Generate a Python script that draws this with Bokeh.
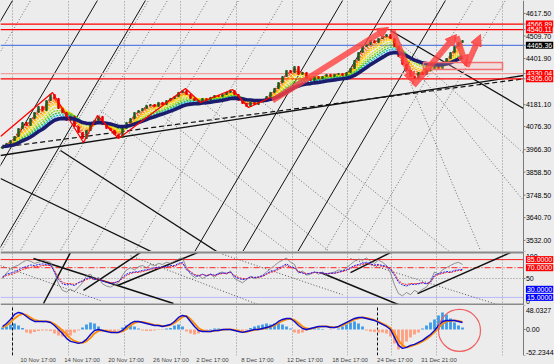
import numpy as np
import pandas as pd
from bokeh.plotting import figure
from bokeh.layouts import column
from bokeh.models import (Range1d, FixedTicker, Arrow, NormalHead)
from bokeh.core.properties import value
from bokeh.embed import file_html
from bokeh.resources import INLINE

BG = "#ececec"
FONT = "Liberation Sans"
FS = "7px"
FS_TIME = "6px"

# ---------------- data (bar index = 4 px step) ----------------
close = [3981, 3996, 4010, 4029, 4067, 4096, 4082, 4115, 4144, 4173,
         4153, 4201, 4230, 4211, 4163, 4144, 4106, 4125, 4077, 4048,
         4019, 4058, 4086, 4106, 4125, 4086, 4067, 4058, 4039, 4024,
         4067, 4096, 4115, 4144, 4153, 4163, 4177, 4182, 4173, 4192,
         4182, 4201, 4211, 4220, 4240, 4249, 4230, 4211, 4201, 4192,
         4211, 4201, 4216, 4225, 4220, 4230, 4240, 4249, 4230, 4201,
         4187, 4173, 4192, 4182, 4201, 4196, 4220, 4240, 4259, 4287,
         4316, 4345, 4335, 4364, 4326, 4335, 4307, 4297, 4316, 4307,
         4316, 4326, 4316, 4326, 4330, 4321, 4335, 4354, 4393, 4431,
         4460, 4469, 4488, 4479, 4498, 4507, 4517, 4498, 4460, 4412,
         4374, 4345, 4316, 4307, 4335, 4326, 4345, 4354, 4364, 4354,
         4383, 4402, 4431, 4460, 4479, 4488]

rsi_red = [51.9, 55.6, 57.4, 59.3, 63.0, 66.7, 68.5, 70.4, 72.2, 72.2,
           74.1, 74.1, 74.1, 64.8, 51.9, 42.6, 40.7, 40.7, 38.9, 42.6,
           44.4, 48.2, 50.0, 48.2, 48.2, 46.3, 44.4, 42.6, 42.6, 44.4,
           50.0, 55.6, 59.3, 61.1, 61.1, 63.0, 64.8, 66.7, 68.5, 68.5,
           70.4, 70.4, 72.2, 72.2, 75.9, 77.8, 68.5, 63.0, 57.4, 55.6,
           57.4, 55.6, 57.4, 55.6, 57.4, 59.3, 59.3, 61.1, 55.6, 51.9,
           50.0, 50.0, 51.9, 51.9, 51.9, 53.7, 57.4, 61.1, 63.0, 66.7,
           70.4, 74.1, 70.4, 68.5, 63.0, 61.1, 59.3, 59.3, 61.1, 61.1,
           59.3, 59.3, 59.3, 59.3, 61.1, 63.0, 64.8, 68.5, 72.2, 74.1,
           75.9, 77.8, 75.9, 74.1, 74.1, 72.2, 72.2, 68.5, 59.3, 46.3,
           40.7, 38.9, 40.7, 40.7, 40.7, 42.6, 40.7, 42.6, 53.7, 57.4,
           59.3, 61.1, 61.1, 63.0, 64.8, 64.8]
rsi_blue = [53, 58, 60, 62, 66, 70, 72, 75, 74, 76,
            77, 76, 75, 62, 48, 40, 38, 39, 37, 42,
            46, 50, 52, 48, 49, 45, 43, 41, 42, 45,
            52, 58, 61, 62, 63, 65, 66, 68, 70, 70,
            72, 72, 74, 74, 78, 80, 66, 61, 56, 54,
            58, 55, 58, 56, 59, 60, 60, 62, 54, 50,
            48, 49, 53, 52, 53, 55, 59, 63, 65, 69,
            73, 77, 72, 70, 62, 60, 58, 60, 62, 61,
            60, 59, 60, 60, 62, 64, 66, 70, 74, 76,
            78, 80, 77, 75, 76, 74, 73, 67, 56, 43,
            38, 36, 39, 39, 40, 42, 40, 44, 56, 59,
            61, 63, 62, 65, 66, 67]
rsi_gray = [50, 60, 68, 72, 75, 80, 84, 82, 78, 80,
            84, 82, 80, 62, 40, 28, 25, 30, 26, 34,
            42, 55, 58, 48, 52, 40, 36, 34, 38, 42,
            56, 66, 70, 66, 72, 74, 70, 76, 74, 78,
            76, 80, 78, 82, 86, 88, 70, 58, 52, 56,
            50, 54, 58, 52, 60, 62, 58, 64, 50, 46,
            42, 48, 54, 50, 52, 56, 62, 68, 74, 80,
            84, 88, 80, 76, 60, 64, 56, 58, 62, 58,
            62, 56, 60, 62, 66, 64, 70, 76, 82, 86,
            84, 88, 82, 78, 84, 80, 74, 60, 38, 22,
            18, 24, 20, 28, 24, 30, 34, 46, 62, 58,
            66, 70, 74, 78, 80, 76]

macd_main = [6, 12, 20, 30, 34, 32, 26, 20, 16, 16,
             16, 16, 14, 8, 0, -8, -18, -24, -26, -28,
             -26, -20, -10, -2, 0, -2, -4, -6, -6, -6,
             -2, 6, 12, 16, 16, 14, 12, 10, 8, 8,
             6, 8, 10, 16, 24, 28, 26, 16, 6, -2,
             -4, -4, -4, -2, -2, 0, 0, 0, -2, -4,
             -6, -4, -2, 0, 0, 2, 4, 6, 10, 16,
             20, 22, 22, 16, 8, 2, 0, 2, 4, 6,
             6, 6, 4, 4, 6, 10, 14, 18, 22, 24,
             24, 22, 20, 18, 14, 10, 6, 0, -16, -32,
             -38, -36, -32, -30, -26, -22, -16, -10, -2, 8,
             16, 18, 18, 18, 16, 14]
macd_signal = [4, 8, 14, 22, 28, 31, 29, 24, 19, 17,
               16, 16, 15, 11, 5, -2, -10, -18, -23, -26,
               -27, -24, -17, -8, -3, -2, -3, -5, -6, -6,
               -4, 1, 8, 13, 15, 15, 13, 11, 9, 8,
               7, 7, 9, 13, 19, 25, 27, 21, 12, 3,
               -2, -4, -4, -3, -2, -1, 0, 0, -1, -3,
               -5, -5, -3, -1, 0, 1, 3, 5, 8, 13,
               17, 20, 21, 19, 13, 6, 2, 1, 3, 5,
               6, 6, 5, 4, 5, 8, 12, 16, 20, 22,
               24, 23, 21, 19, 16, 12, 8, 3, -8, -22,
               -32, -36, -34, -31, -28, -24, -19, -13, -6, 3,
               11, 16, 17, 18, 17, 15]
macd_hist = [4, 6, 10, 12, 8, 3, -6, -8, -5, -3,
             -2, -2, -3, -8, -12, -14, -16, -12, -6, -2,
             4, 10, 14, 12, 6, -3, -5, -6, -4, -2,
             4, 8, 10, 6, 2, -2, -3, -3, -2, -1,
             -1, 2, 3, 8, 10, 6, -4, -8, -10, -8,
             -4, -2, 1, 2, 2, 1, 1, 0, -2, -4,
             -5, -2, 3, 6, 8, 10, 12, 10, 12, 14,
             10, 6, 2, -6, -8, -6, -3, 1, 2, 2,
             1, 0, -1, 0, 2, 6, 10, 14, 16, 12,
             6, -2, -4, -5, -6, -6, -8, -14, -28, -40,
             -36, -24, -16, -10, -6, 2, 8, 14, 20, 28,
             34, 30, 22, 14, 8, 4]

# horizontal price levels
level_prices = [4566.89, 4540.11, 4465.36, 4330.04, 4305.00]
level_colors = ["#ff0000", "#ff0000", "#5b7fe0", "#f2a0a0", "#ff0000"]
level_label_bg = ["#ff0000", "#ff0000", "#000000", "#ff0000", "#ff0000"]
main_ticks = [4617.50, 4509.70, 4401.90, 4181.10, 4076.30, 3966.30, 3858.50,
              3748.50, 3640.70, 3532.00]

osc_levels = [85, 70, 30, 15]
osc_level_text = ["85.0000", "70.0000", "30.0000", "15.0000"]
osc_level_bg = ["#ff0000", "#ff0000", "#0000ff", "#0000ff"]
macd_max, macd_min = 48.0327, -52.2344

# trend objects (bar, price)
steep_black = [(-35.75, 3435.6, 3.97, 4727.6), (-14.5, 3435.6, 25.2, 4727.6),
               (-2.5, 3435.6, 37.2, 4727.6), (46.75, 3435.6, 86.5, 4727.6),
               (58.75, 3435.6, 98.5, 4727.6), (72.5, 3435.6, 112.2, 4727.6)]
steep_gray = [(-31.25, 3435.6, 8.47, 4727.6), (-1.75, 3435.6, 37.97, 4727.6),
              (3.0, 3435.6, 42.7, 4727.6), (13.0, 3435.6, 52.7, 4727.6),
              (20.75, 3435.6, 60.5, 4727.6), (31.75, 3435.6, 71.5, 4727.6),
              (79.25, 3435.6, 119.0, 4727.6), (87.5, 3435.6, 127.2, 4727.6)]
desc_black = [(-0.5, 3828.0, 49.5, 3364.0), (14.5, 3962.0, 57.0, 3436.0),
              (97.0, 4536.0, 130.25, 4163.0)]
desc_gray = [(24.5, 4153.4, 74.5, 3435.6), (37.0, 4177.0, 84.5, 3435.6),
             (49.5, 4201.0, 99.5, 3435.6), (64.5, 4201.0, 114.5, 3435.6),
             (98.25, 4464.4, 130.25, 3722.7), (97.5, 4488.0, 119.5, 3483.0),
             (98.0, 4500.0, 130.25, 3950.0)]
shallow_solid = [(-0.5, 3938.0, 130.25, 4320.8)]
shallow_dashed = [(-0.5, 3976.3, 130.25, 4305.0)]

zigzag_bar = [-0.5, 12.5, 20.25, 23.75, 29.0, 45.75, 49.5, 57.5, 61.5, 67.0]
zigzag_price = [4028.9, 4239.5, 4000.2, 4129.4, 4019.4, 4258.6, 4191.6, 4253.8, 4167.7, 4215.6]

arrows = [(67.5, 4201.2, 96.5, 4550.5), (97.5, 4536.1, 102.75, 4282.5),
          (102.75, 4273.0, 113.5, 4517.0), (113.5, 4507.4, 116.0, 4363.9),
          (116.0, 4363.9, 119.5, 4517.0)]
box = (105.25, 4349.5, 125.0, 4383.0)

rsi_black = [(10.25, 3.7, 17.0, 98.2), (20.25, 27.8, 34.5, 98.2),
             (7.75, 87.0, 42.75, 3.7), (28.75, 37.0, 48.75, 98.0),
             (87.0, 61.0, 97.0, 98.0), (103.75, 22.0, 127.0, 98.0),
             (79.5, 61.0, 99.5, 0.0)]
rsi_grayd = [(-0.5, 74.0, 24.5, 9.0), (32.0, 92.0, 64.5, 0.0), (87.0, 87.0, 124.5, 0.0),
             (55.0, 95.0, 85.0, 20.0)]

grid_bars = [2.5, 16.5, 30.5, 44.5, 58.5, 72.5, 86.25, 97.25, 108.5, 125.0]
macd_marks = [2.5, 93.75]
time_ticks = [8.9, 19.9, 30.9, 42.1, 52.5, 63.75, 75.6, 86.9, 98.1, 109.1]
time_labels = ["10 Nov 17:00", "14 Nov 17:00", "20 Nov 17:00", "26 Nov 17:00",
               "2 Dec 17:00", "8 Dec 17:00", "12 Dec 17:00", "18 Dec 17:00",
               "24 Dec 17:00", "31 Dec 21:00"]

X_END = 130.25          # right edge of the chart area (price scale starts here)
XR = Range1d(-0.5, 138.0)
AX = "#7a7a7a"


def base_fig(frame_h, yr, bottom=0):
    p = figure(frame_width=554, frame_height=frame_h, x_range=XR, y_range=yr,
               output_backend="svg", toolbar_location=None,
               y_axis_location=None, x_axis_location=("below" if bottom else None),
               min_border_left=0, min_border_right=0, min_border_top=0,
               min_border_bottom=bottom, background_fill_color=BG,
               border_fill_color=BG, outline_line_color=None)
    p.xgrid.visible = False
    p.ygrid.visible = False
    for b in grid_bars:
        p.segment(x0=[b], y0=[yr.start], x1=[b], y1=[yr.end], line_color="#8c8c8c",
                  line_dash="1 2", line_width=1)
    return p


def price_scale(p, yr, ticks, dx=0.5):
    p.segment(x0=[X_END], y0=[yr.start], x1=[X_END], y1=[yr.end], line_color=AX, line_width=1)
    p.segment(x0=[X_END] * len(ticks), y0=ticks, x1=[X_END + dx] * len(ticks), y1=ticks,
              line_color=AX, line_width=1)


def scale_text(p, ys, texts, bg=None, color="#000000", baseline="middle", yoff=0):
    kw = {}
    if bg is not None:
        kw = dict(background_fill_color=bg, padding=1)
    p.text(x=[X_END + 0.6] * len(ys), y=ys, text=texts, text_align="left",
           text_baseline=baseline, text_font=value(FONT), text_font_size=FS,
           text_color=color, y_offset=yoff, **kw)


def seg(p, rows, color, dash="solid", width=1.0, alpha=1.0):
    x0, y0, x1, y1 = zip(*rows)
    p.segment(x0=list(x0), y0=list(y0), x1=list(x1), y1=list(y1),
              line_color=color, line_dash=dash, line_width=width, line_alpha=alpha)


def hline(p, y, color, width=1.0, dash="solid"):
    p.segment(x0=[-0.5], y0=[y], x1=[X_END], y1=[y], line_color=color,
              line_width=width, line_dash=dash)


# ---------------- main price pane ----------------
yr1 = Range1d(3478.7, 4679.7)
p1 = base_fig(251, yr1)

seg(p1, steep_gray, "#6e6e6e", dash="1 2")
seg(p1, desc_gray, "#6e6e6e", dash="1 2")
seg(p1, steep_black, "#111111", width=1)
seg(p1, desc_black, "#111111", width=1.3)
seg(p1, shallow_solid, "#111111", width=1.3)
seg(p1, shallow_dashed, "#111111", dash="5 3", width=1.2)

for lp, lc in zip(level_prices, level_colors):
    hline(p1, lp, lc, width=1.2)

n = len(close)
xb = np.arange(n)
cl = np.array(close, dtype=float)
op = np.concatenate([[cl[0] - 10], cl[:-1]])
s = pd.Series(cl)
ribbon_spans = [2, 3, 4, 5, 6, 8, 10, 12, 14, 16]
ribbon_cols = ["#ff2020", "#ff5a00", "#ff8c00", "#ffb400", "#ffd700", "#c8e000",
               "#7cd000", "#30c030", "#00b8c8", "#4a90ff"]
for sp, col in zip(ribbon_spans, ribbon_cols):
    p1.line(xb, s.ewm(span=sp, adjust=False).mean().values, line_color=col,
            line_width=1.3, line_dash="2 1", line_alpha=1.0)
up = cl >= op
p1.vbar(x=xb[up], top=cl[up], bottom=op[up], width=0.35, fill_color="#1b5e20",
        line_color="#1b5e20")
p1.vbar(x=xb[~up], top=op[~up], bottom=cl[~up], width=0.35, fill_color="#e00000",
        line_color="#e00000")
p1.line(xb, s.ewm(span=18, adjust=False).mean().values, line_color="#1c1c6e", line_width=3.6)

p1.line(zigzag_bar, zigzag_price, line_color="#ff0000", line_width=1.3)
p1.quad(left=box[0], bottom=box[1], right=box[2], top=box[3], fill_color="#ffb0b0",
        fill_alpha=0.25, line_color="#f07070", line_width=1.5)
for a in arrows:
    p1.add_layout(Arrow(end=NormalHead(size=11, fill_color="#ff4040", line_color="#ff4040",
                                       fill_alpha=0.85, line_alpha=0.85),
                        x_start=a[0], y_start=a[1], x_end=a[2], y_end=a[3],
                        line_color="#ff4040", line_width=6, line_alpha=0.8))

price_scale(p1, yr1, main_ticks + level_prices)
scale_text(p1, main_ticks, [f"{t:.2f}" for t in main_ticks])
scale_text(p1, level_prices, [f"{t:.2f}" for t in level_prices], bg=level_label_bg,
           color="#ffffff")

# ---------------- oscillator pane ----------------
yr2 = Range1d(0, 100)
p2 = base_fig(54, yr2)
hline(p2, 85, "#ff2020")
hline(p2, 70, "#ff2020", dash="6 2 1 2")
hline(p2, 50, "#8c8c8c", dash="1 2")
hline(p2, 15, "#b8b8ff")
seg(p2, rsi_grayd, "#555555", dash="1 2")
seg(p2, rsi_black, "#111111", width=1.5)
p2.line(np.arange(len(rsi_gray)), rsi_gray, line_color="#777777", line_width=0.8)
p2.line(np.arange(len(rsi_red)), rsi_red, line_color="#ff2020", line_width=1, line_dash="2 1")
p2.line(np.arange(len(rsi_blue)), rsi_blue, line_color="#2020ff", line_width=1, line_dash="2 1")
p2.segment(x0=[-0.5, -0.5], y0=[99.2, 0.8], x1=[X_END, X_END], y1=[99.2, 0.8],
           line_color="#8a8a8a", line_width=3)
price_scale(p2, yr2, [100, 50, 0])
scale_text(p2, [100], ["100"], baseline="top", yoff=2)
scale_text(p2, [50], ["50"])
scale_text(p2, [0], ["0"], baseline="bottom", yoff=-2)
scale_text(p2, osc_levels, osc_level_text, bg=osc_level_bg, color="#ffffff")

# ---------------- MACD pane ----------------
yr3 = Range1d(macd_min, macd_max)
p3 = base_fig(50, yr3, bottom=9)
p3.xaxis.ticker = FixedTicker(ticks=time_ticks)
p3.xaxis.major_label_overrides = {t: l for t, l in zip(time_ticks, time_labels)}
p3.xaxis.axis_line_color = None
p3.xaxis.major_tick_line_color = None
p3.xaxis.minor_tick_line_color = None
p3.xaxis.major_tick_out = 0
p3.xaxis.major_tick_in = 0
p3.xaxis.major_label_text_font = FONT
p3.xaxis.major_label_text_font_size = FS_TIME
p3.xaxis.major_label_standoff = 1
for b in macd_marks:
    p3.segment(x0=[b], y0=[yr3.start], x1=[b], y1=[yr3.end], line_color="#111111",
               line_dash="3 2", line_width=1)
xh = np.arange(len(macd_hist))
hv = np.array(macd_hist, dtype=float)
pos = hv >= 0
p3.vbar(x=xh[pos], top=hv[pos], bottom=0, width=0.7, fill_color="#3d9be9", line_color=None)
p3.vbar(x=xh[~pos], top=0, bottom=hv[~pos], width=0.7, fill_color="#ff9f80", line_color=None)
p3.line(np.arange(len(macd_signal)), macd_signal, line_color="#ff8c00", line_width=1.8)
p3.line(np.arange(len(macd_main)), macd_main, line_color="#0a0ad0", line_width=1.4)
p3.scatter([114.25], [-2], marker="circle", size=42, fill_color=None,
           line_color="#f06060", line_width=1.2)
price_scale(p3, yr3, [macd_max, 0.0, macd_min])
scale_text(p3, [macd_max], [f"{macd_max:.4f}"], baseline="top", yoff=2)
scale_text(p3, [0.0], ["0.00"])
scale_text(p3, [macd_min], [f"{macd_min:.4f}"], baseline="bottom", yoff=-1)

layout = column(p1, p2, p3, spacing=0, styles={"background-color": BG})
open("out.html", "w").write(file_html(layout, INLINE))
